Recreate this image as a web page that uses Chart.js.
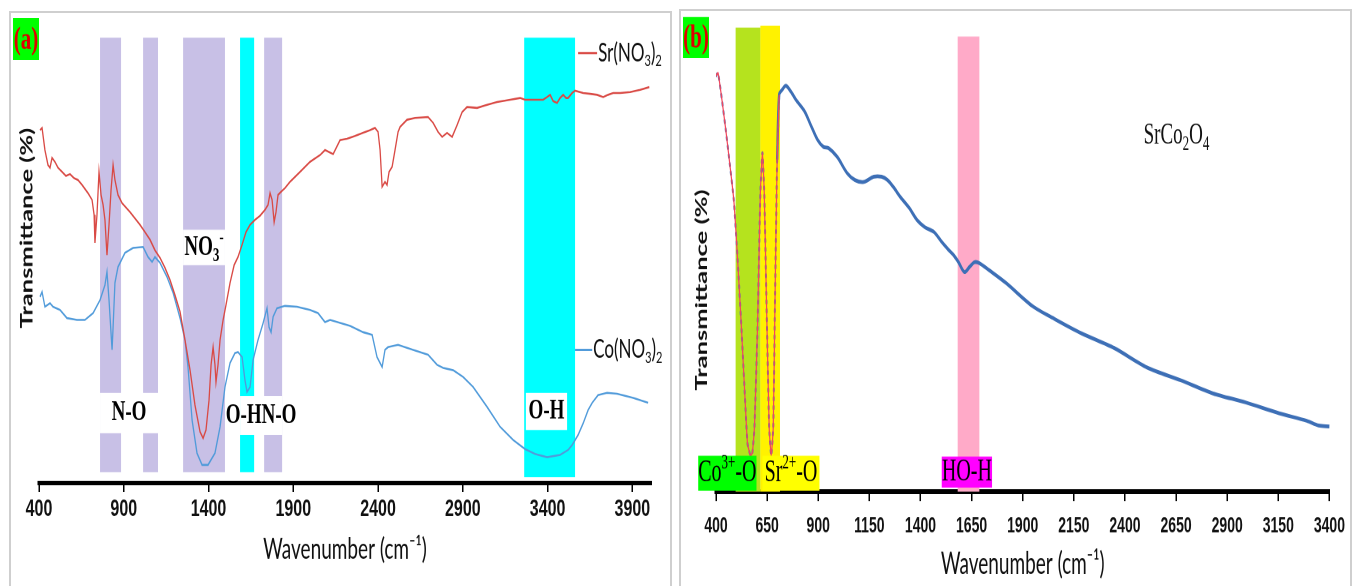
<!DOCTYPE html>
<html>
<head>
<meta charset="utf-8">
<script src="https://cdn.jsdelivr.net/npm/chart.js@4.4.0/dist/chart.umd.min.js"></script>
<style>
  html, body { margin: 0; padding: 0; background: #fff; width: 1354px; height: 586px; overflow: hidden; position: relative; }
  .frame { position: absolute; border: 2px solid #cfcfcf; border-bottom: none; }
  #frameA { left: 9px; top: 11px; width: 659px; height: 600px; }
  #frameB { left: 679px; top: 9px; width: 669px; height: 600px; }
  .wrap { position: absolute; transform-origin: 0 0; }
  #wrapA { left: 10px; top: 12px; transform: scaleY(1.5); }
  #wrapB { left: 680px; top: 10px; transform: scaleY(1.6); }
  canvas { display: block; }
</style>
</head>
<body>
<div class="frame" id="frameA"></div>
<div class="frame" id="frameB"></div>
<div class="wrap" id="wrapA"><canvas id="chartA" width="662" height="383"></canvas></div>
<div class="wrap" id="wrapB"><canvas id="chartB" width="672" height="360"></canvas></div>
<script>
// ── panel (a): Sr(NO3)2 and Co(NO3)2 FTIR ──
const srWave = [406,418,435,453,465,477,494,512,536,559,583,607,630,654,689,713,725,730,742,754,
  766,778,789,801,813,825,837,848,866,890,937,996,1025,1055,1084,1114,1143,1173,1202,1232,
  1261,1291,1320,1350,1368,1385,1403,1415,1427,1438,1444,1456,1468,1486,1503,1527,1551,1574,1598,1621,
  1645,1674,1704,1733,1751,1763,1775,1787,1798,1810,1828,1851,1881,1940,1999,2058,2087,2135,2176,2217,
  2264,2312,2353,2382,2400,2412,2424,2441,2453,2465,2483,2500,2518,2530,2571,2618,2695,2725,2754,2778,
  2807,2837,2866,2896,2925,2984,3043,3102,3179,3238,3267,3326,3374,3397,3415,3433,3456,3474,3492,3509,
  3521,3545,3562,3610,3651,3692,3728,3757,3787,3828,3887,3946,4000];
const srTrans = [77.9,78.4,73.5,70.2,69.6,71.8,70.9,69.6,68.7,67.8,68.2,67.3,66.9,65.8,64.0,62.5,59.2,53.0,59.2,68.7,
  63.6,61.4,58.1,50.3,57.0,64.7,70.2,66.9,63.6,61.8,59.8,57.0,55.4,53.7,51.4,49.7,47.5,44.8,41.5,37.8,
  31.6,24.9,17.2,11.3,9.9,11.7,18.3,26.1,30.0,26.1,22.3,26.1,31.6,36.0,39.3,44.2,48.1,49.9,52.6,55.4,
  57.0,58.1,59.0,60.3,61.4,64.0,62.5,57.6,59.8,63.6,64.3,65.1,66.5,68.7,70.9,72.4,73.5,72.6,75.7,76.0,
  76.6,77.3,77.9,78.4,77.5,73.5,65.4,66.5,65.8,68.7,69.8,73.5,77.5,78.6,80.2,80.6,80.8,79.5,77.5,76.4,
  77.3,76.4,79.0,81.9,83.0,82.8,83.5,84.1,84.6,85.0,84.6,84.6,84.6,85.2,85.7,84.3,83.9,85.0,85.7,85.0,
  85.0,86.1,86.6,86.1,85.9,85.7,85.2,85.7,86.1,86.1,86.3,86.8,87.4];

const coWave = [406,418,435,465,483,524,565,624,671,719,760,789,801,813,819,831,837,848,866,907,
  955,1014,1043,1067,1084,1114,1155,1191,1232,1261,1279,1303,1332,1362,1397,1438,1468,1497,1527,1556,
  1574,1598,1615,1627,1645,1663,1692,1722,1745,1757,1769,1781,1804,1851,1922,1999,2046,2087,2117,2235,
  2312,2365,2394,2424,2441,2459,2518,2607,2695,2748,2784,2843,2902,2961,3043,3120,3197,3267,3326,3397,
  3474,3521,3545,3580,3610,3639,3663,3698,3751,3810,3905,3993];
const coTrans = [41.1,42.2,38.9,39.7,38.9,38.2,36.4,36.0,36.0,37.5,40.4,43.7,46.6,40.4,36.7,29.4,34.4,44.2,47.7,50.8,
  51.9,52.1,49.9,48.8,49.9,48.6,45.5,42.0,36.4,31.6,25.6,13.9,6.6,4.0,4.0,6.6,12.4,21.2,26.5,28.7,
  28.9,27.8,22.7,20.1,21.2,27.2,31.6,35.3,38.6,34.4,33.3,36.7,38.6,39.1,38.9,38.2,37.5,35.5,36.0,34.7,
  33.3,32.7,27.8,25.6,29.4,30.0,30.5,29.4,28.3,26.1,25.4,24.9,23.4,21.2,16.8,12.4,9.5,7.5,6.4,5.7,
  6.2,7.3,8.4,10.6,13.2,16.1,17.7,19.4,19.9,19.7,18.8,17.7];

const ticksA = [400, 900, 1400, 1900, 2400, 2900, 3400, 3900];

// ── panel (b): SrCo2O4 ──
const scoWave = [400,410,429,448,468,487,506,525,540,554,569,578,588,603,617,627,636,646,660,670,
  680,689,699,709,723,742,767,791,834,863,897,926,950,993,1041,1080,1123,1172,1210,1239,
  1268,1302,1345,1384,1422,1466,1504,1538,1562,1586,1615,1640,1664,1688,1736,1818,1948,2059,2189,2348,
  2508,2672,2831,2990,3154,3289,3347,3400];
const scoTrans = [88.1,88.7,83.0,76.6,69.2,61.8,49.0,34.2,21.4,10.2,7.6,8.3,13.6,34.8,63.3,71.8,63.3,42.0,13.6,7.6,
  13.6,42.0,70.3,84.1,85.1,86.0,84.7,83.0,80.5,77.7,74.5,73.0,72.8,70.9,67.5,66.0,65.6,66.7,66.7,66.0,
  64.5,62.4,60.1,57.5,56.0,55.0,52.9,51.2,50.1,48.6,46.5,47.6,48.6,48.4,46.9,44.2,39.3,36.5,33.5,30.4,
  26.3,23.6,20.8,18.9,16.6,15.0,14.0,13.8];

const ticksB = [400, 650, 900, 1150, 1400, 1650, 1900, 2150, 2400, 2650, 2900, 3150, 3400];

const RED = '#d94a45', BLUE = '#519bda', DARKBLUE = '#3d6fb6';
const LAV = '#c8c0e6', CYAN = '#00ffff';
const SERIF = "'Liberation Serif', 'Times New Roman', serif";
const SANS = "Lato, 'Open Sans', sans-serif";

const pts = (w, t) => w.map((v, i) => ({ x: v, y: t[i] }));

// text with sub/superscripts, parts = [[text, 'sub'|'sup'|undefined], ...]
function drawParts(ctx, parts, x, y, size, family, weight, color, align) {
  const big = `${weight} ${size}px ${family}`;
  const small = `${weight} ${Math.round(size * 0.66)}px ${family}`;
  let total = 0;
  parts.forEach(p => { ctx.font = p[1] ? small : big; total += ctx.measureText(p[0]).width; });
  let cx = align === 'left' ? x : x - total / 2;
  ctx.fillStyle = color; ctx.textBaseline = 'middle'; ctx.textAlign = 'left';
  parts.forEach(p => {
    ctx.font = p[1] ? small : big;
    const dy = p[1] === 'sub' ? size * 0.3 : p[1] === 'sup' ? -size * 0.33 : 0;
    ctx.fillText(p[0], cx, y + dy);
    cx += ctx.measureText(p[0]).width;
  });
}

function overlay(cfg) {
  const boxes = (chart) => {
    const { ctx, scales: { x, y } } = chart;
    cfg.boxes.forEach(b => {
      const x0 = x.getPixelForValue(b.from), x1 = x.getPixelForValue(b.to);
      const y0 = y.getPixelForValue(b.top), y1 = y.getPixelForValue(b.bottom);
      ctx.fillStyle = b.fill; ctx.fillRect(x0, y0, x1 - x0, y1 - y0);
      drawParts(ctx, b.parts, (x0 + x1) / 2, (y0 + y1) / 2, cfg.boxFont.size, SERIF, cfg.boxFont.weight, '#000');
    });
  };
  return {
    id: 'overlay',
    beforeDatasetsDraw(chart) {
      const { ctx, scales: { x, y } } = chart;
      ctx.save();
      cfg.bands.forEach(b => {
        const x0 = x.getPixelForValue(b.from), x1 = x.getPixelForValue(b.to);
        const y0 = y.getPixelForValue(b.top), y1 = y.getPixelForValue(b.bottom);
        ctx.fillStyle = b.color; ctx.fillRect(x0, y0, x1 - x0, y1 - y0);
      });
      if (!cfg.boxesOnTop) boxes(chart);
      ctx.restore();
    },
    afterDatasetsDraw(chart) {
      const { ctx, scales: { x, y } } = chart;
      ctx.save();
      if (cfg.boxesOnTop) boxes(chart);
      // series labels with a short line stub
      (cfg.keys || []).forEach(k => {
        const x0 = x.getPixelForValue(k.from), x1 = x.getPixelForValue(k.to), yy = y.getPixelForValue(k.at);
        ctx.strokeStyle = k.color; ctx.lineWidth = 1.5;
        ctx.beginPath(); ctx.moveTo(x0, yy); ctx.lineTo(x1, yy); ctx.stroke();
        drawParts(ctx, k.parts, x1 + 1, yy, 17, SANS, 'normal', '#111', 'left');
      });
      (cfg.notes || []).forEach(n => {
        drawParts(ctx, n.parts, x.getPixelForValue(n.x), y.getPixelForValue(n.y), n.size, SERIF, 'normal', '#111');
      });
      // panel letter
      const t = cfg.tag;
      ctx.fillStyle = '#00ff00'; ctx.fillRect(t.x, t.y, t.w, t.h);
      drawParts(ctx, [[t.text]], t.x + t.w / 2, t.y + t.h / 2 + 1, 21, SERIF, 'bold', '#e00000');
      // rotated y title
      ctx.translate(cfg.yTitle.x, cfg.yTitle.y); ctx.rotate(-Math.PI / 2);
      ctx.font = `bold ${cfg.yTitle.size}px ${SANS}`; ctx.fillStyle = '#111';
      ctx.textAlign = 'center'; ctx.textBaseline = 'middle';
      ctx.fillText('Transmittance (%)', 0, 0);
      ctx.restore();
    }
  };
}

function xAxis(min, max, ticks, fontSize, pad, height, titlePad) {
  return {
    type: 'linear', min, max,
    afterBuildTicks: s => { s.ticks = ticks.map(v => ({ value: v })); },
    ticks: { color: '#111', autoSkip: false, maxRotation: 0, padding: pad, callback: v => String(v),
      font: { family: "'Liberation Sans', Arial, sans-serif", weight: 'bold', size: fontSize } },
    grid: { display: true, drawOnChartArea: false, drawTicks: true, tickLength: 6, color: '#000', lineWidth: 1.5 },
    border: { display: true, color: '#000', width: 3 },
    title: { display: true, text: 'Wavenumber (cm⁻¹)', color: '#111',
      font: { family: SANS, size: 19 }, padding: { top: 0, bottom: titlePad } },
    afterFit: s => { s.height = height; }
  };
}

function yAxis(width) {
  return {
    min: 0, max: 100,
    ticks: { display: false }, grid: { display: false }, border: { display: false },
    afterFit: s => { s.width = width; }
  };
}

const base = { responsive: false, animation: false, devicePixelRatio: 2,
  plugins: { legend: { display: false }, tooltip: { enabled: false } } };

new Chart(document.getElementById('chartA'), {
  type: 'line',
  data: { datasets: [
    { label: 'Sr(NO3)2', data: pts(srWave, srTrans), borderColor: RED, borderWidth: 1.3, pointRadius: 0, tension: 0 },
    { label: 'Co(NO3)2', data: pts(coWave, coTrans), borderColor: BLUE, borderWidth: 1.3, pointRadius: 0, tension: 0 }
  ] },
  options: { ...base,
    layout: { padding: { top: 12, right: 21, left: 0, bottom: 0 } },
    scales: { x: xAxis(400, 4010, ticksA, 16, 2, 69, 13), y: yAxis(29) }
  },
  plugins: [overlay({
    bands: [
      { from: 760, to: 884, top: 98.3, bottom: 2.4, color: LAV },
      { from: 1014, to: 1102, top: 98.3, bottom: 2.4, color: LAV },
      { from: 1250, to: 1497, top: 98.3, bottom: 2.4, color: LAV },
      { from: 1586, to: 1669, top: 98.3, bottom: 2.4, color: CYAN },
      { from: 1728, to: 1834, top: 98.3, bottom: 2.4, color: LAV },
      { from: 3262, to: 3562, top: 98.3, bottom: 1.3, color: CYAN }
    ],
    boxes: [
      { from: 760, to: 1102, top: 19.9, bottom: 11.0, fill: '#fff', parts: [['N-O']] },
      { from: 1250, to: 1497, top: 55.9, bottom: 48.1, fill: '#fff', parts: [['NO'], ['3', 'sub'], ['-', 'sup']] },
      { from: 1586, to: 1834, top: 19.2, bottom: 10.6, fill: '#fff', parts: [['O-HN-O']] },
      { from: 3272, to: 3515, top: 19.9, bottom: 11.7, fill: '#fff', parts: [['O-H']] }
    ],
    boxFont: { size: 19, weight: 'bold' },
    keys: [
      { from: 3580, to: 3692, at: 94.9, color: RED, parts: [['Sr(NO'], ['3', 'sub'], [')'], ['2', 'sub']] },
      { from: 3562, to: 3663, at: 29.4, color: BLUE, parts: [['Co(NO'], ['3', 'sub'], [')'], ['2', 'sub']] }
    ],
    tag: { x: 3, y: 4, w: 26, h: 28, text: '(a)' },
    yTitle: { x: 17, y: 144, size: 17 }
  })]
});

new Chart(document.getElementById('chartB'), {
  type: 'line',
  data: { datasets: [
    { label: 'SrCo2O4 (M-O region)', data: pts(scoWave, scoTrans).filter(p => p.x <= 709),
      borderColor: '#f2475c', borderWidth: 1.2, pointRadius: 0, tension: 0.15 },
    { label: 'SrCo2O4 (M-O region, dots)', data: pts(scoWave, scoTrans).filter(p => p.x <= 709),
      borderColor: '#6470b0', borderWidth: 2, borderDash: [1.5, 4], borderCapStyle: 'round', pointRadius: 0, tension: 0.15 },
    { label: 'SrCo2O4', data: pts(scoWave, scoTrans).filter(p => p.x >= 699),
      borderColor: DARKBLUE, borderWidth: 2.4, pointRadius: 0, tension: 0.3 }
  ] },
  options: { ...base,
    layout: { padding: { top: 6, right: 13, left: 0, bottom: 0 } },
    scales: { x: xAxis(400, 3400, ticksB, 14, 7, 59, 2), y: yAxis(36) }
  },
  plugins: [overlay({
    bands: [
      { from: 496, to: 617, top: 98.3, bottom: 0, color: '#b5e31e' },
      { from: 617, to: 713, top: 98.7, bottom: 0, color: '#fff200' },
      { from: 1582, to: 1688, top: 96.4, bottom: 0, color: '#ffaac8' }
    ],
    boxes: [
      { from: 313, to: 598, top: 7.6, bottom: 0.2, fill: '#00ff00', parts: [['Co'], ['3+', 'sup'], ['-O']] },
      { from: 627, to: 906, top: 7.6, bottom: 0.2, fill: '#ffff00', parts: [['Sr'], ['2+', 'sup'], ['-O']] },
      { from: 1504, to: 1750, top: 7.4, bottom: 0.85, fill: '#ff00ff', parts: [['HO-H']] }
    ],
    boxesOnTop: true,
    boxFont: { size: 20, weight: 'normal' },
    notes: [ { x: 2652, y: 75.4, size: 19, parts: [['SrCo'], ['2', 'sub'], ['O'], ['4', 'sub']] } ],
    tag: { x: 3, y: 4.4, w: 26, h: 25.6, text: '(b)' },
    yTitle: { x: 22, y: 175, size: 16 }
  })]
});
</script>
</body>
</html>
